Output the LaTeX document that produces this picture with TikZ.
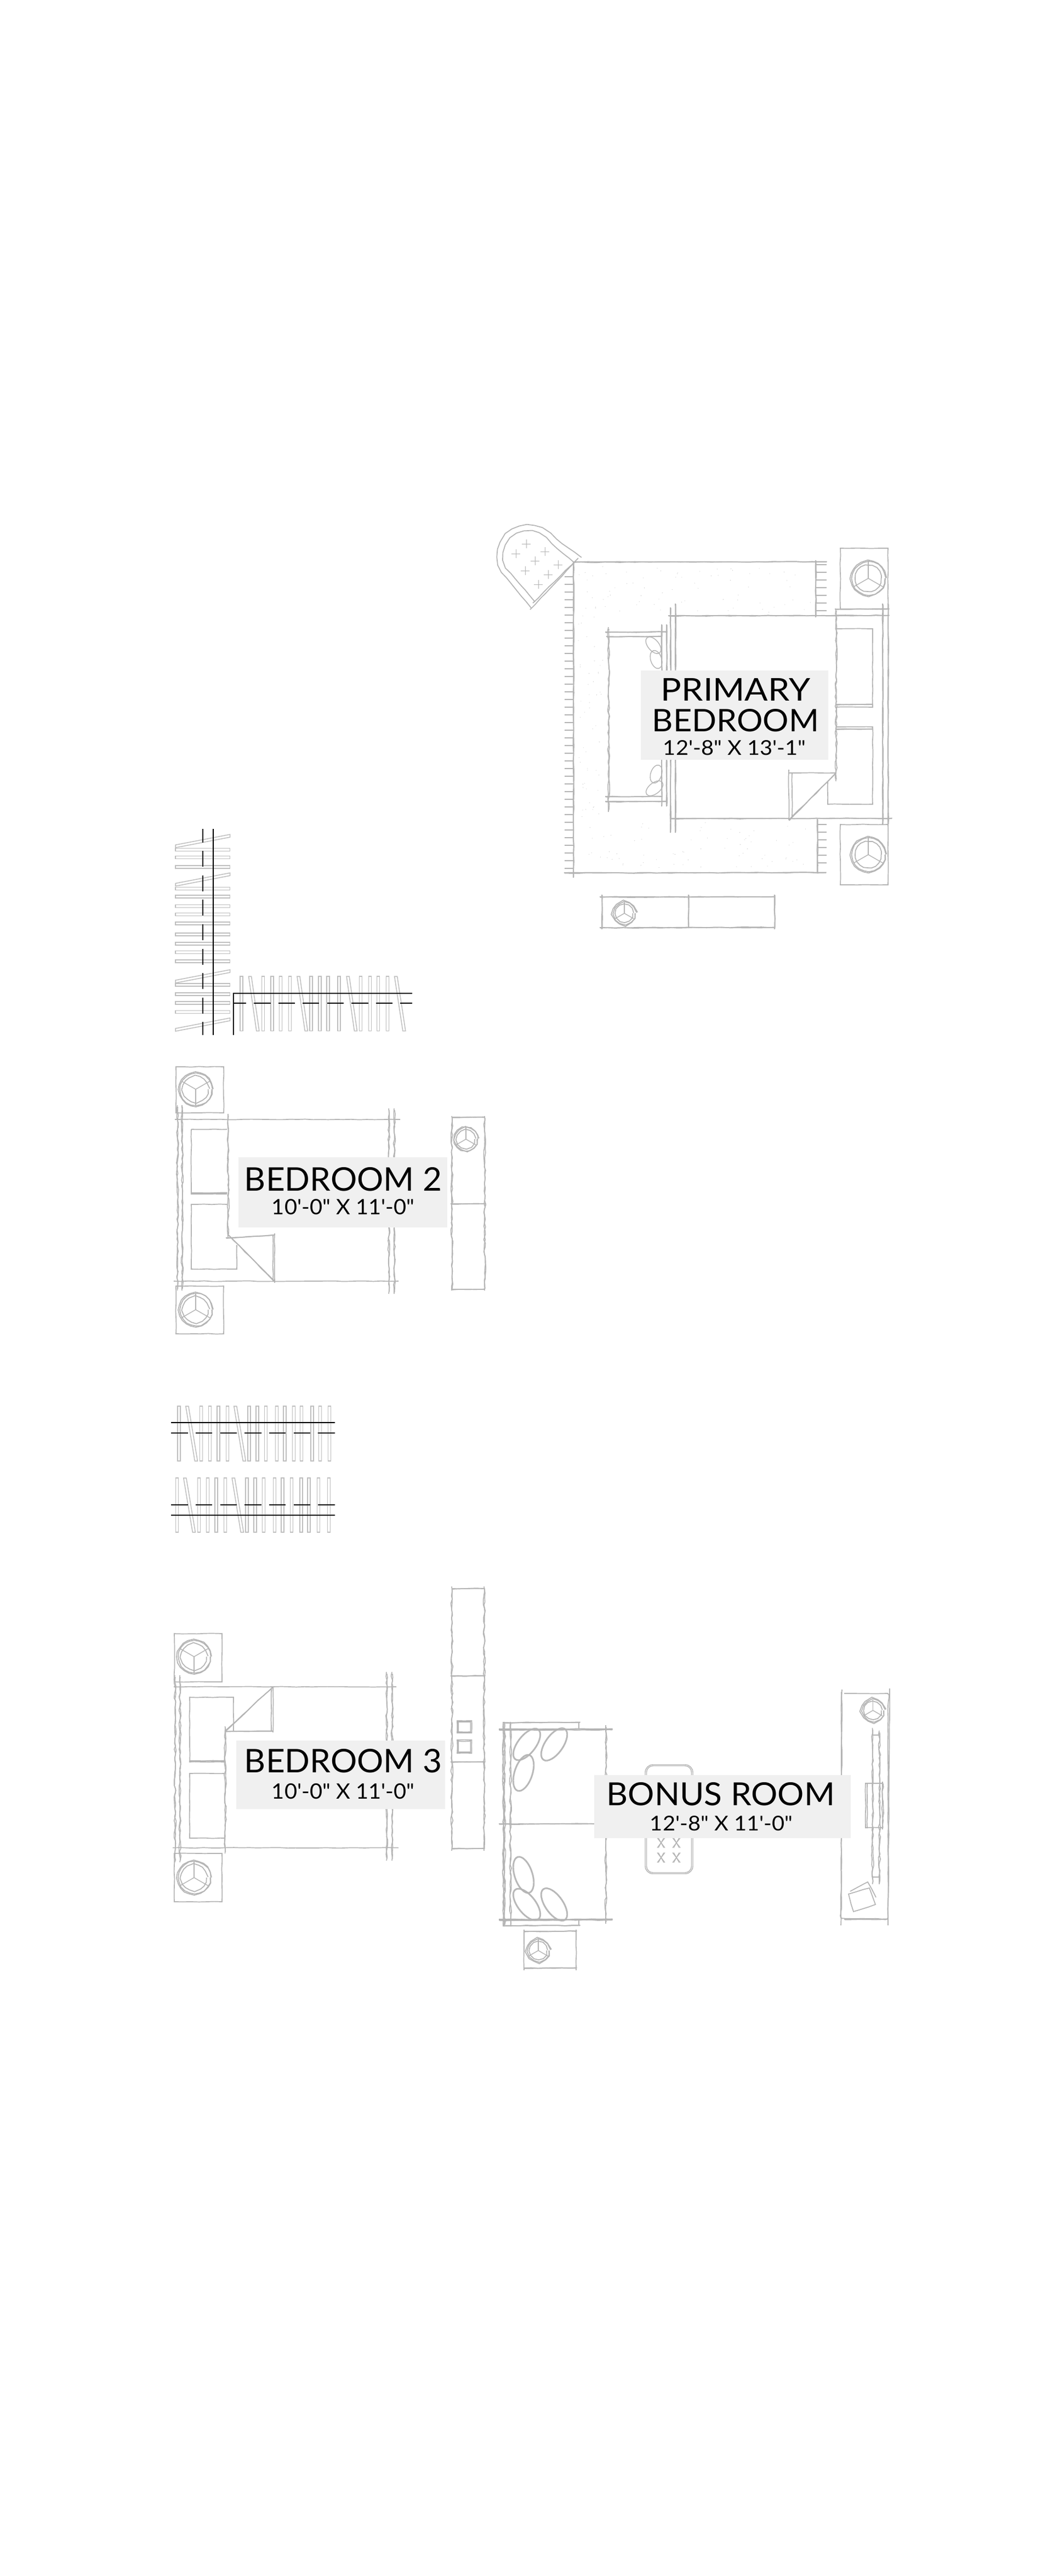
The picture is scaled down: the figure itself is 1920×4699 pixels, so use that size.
\documentclass[tikz,border=0pt]{standalone}
\usepackage{fontspec}
\usepackage{graphicx}
\usetikzlibrary{decorations.pathmorphing}
\newfontfamily\lb{Lato}
\definecolor{skgray}{HTML}{B4B4B4}
\definecolor{hanggray}{HTML}{BEBEBE}
\definecolor{labelbg}{HTML}{F0F0F0}
\pgfmathsetseed{7}
\tikzset{
  sk/.style={draw=skgray,line width=1.7pt,decorate,decoration={random steps,segment length=14pt,amplitude=.6pt}},
  skw/.style={draw=skgray,line width=1.6pt,decorate,decoration={random steps,segment length=8pt,amplitude=1.6pt}},
  smooth line/.style={draw=skgray,line width=1.4pt},
  hang/.style={draw=hanggray,line width=1.5pt},
  rod/.style={draw=black,line width=1.5pt},
  tick/.style={draw=skgray,line width=1.3pt},
  labelbox/.style={fill=labelbg,draw=none,inner sep=0},
  labeltext/.style={anchor=base,inner sep=0,text=black,font=\lb},
}
% fit a line of text to the measured width and height
\newcommand\fitt[3]{\resizebox{#1pt}{#2pt}{#3}}
% sketched line drawn twice
\newcommand\twin[4]{\draw[sk] (#1,#2) -- (#3,#4);\draw[sk] (#1+.8,#2+.8) -- (#3+.6,#4-.6);}
\newcommand\wobv[3]{\draw[skw] (#1,#2) -- (#1,#3);\draw[skw] (#1+.8,#2+3) -- (#1+.8,#3-3);}
% round lamp: x y r dir (1 = spoke up, -1 = spoke down)
\newcommand\lamp[4]{%
  \draw[sk,decoration={segment length=9pt,amplitude=.7pt}] (#1,#2) circle [radius=#3];
  \draw[sk,decoration={segment length=9pt,amplitude=.7pt}] (#1+.8,#2) circle [radius=#3-1.5];
  \draw[sk,decoration={segment length=8pt,amplitude=.5pt}] (#1,#2) circle [radius=#3*.76];
  \draw[smooth line] (#1,#2) -- (#1,#2-#4*#3*1.0);
  \draw[smooth line] (#1,#2) -- (#1+.87*#3,#2+#4*.5*#3);
  \draw[smooth line] (#1,#2) -- (#1-.87*#3,#2+#4*.5*#3);
}
% closet hangers
\newcommand\hangv[5]{\draw[hang] (#1-2.5,#3) -- (#1+2.5,#3) -- (#2+2.5,#4) -- (#2-2.5,#4) -- cycle;}
\newcommand\hangh[5]{\draw[hang] (#3,#1-2.5) -- (#3,#1+2.5) -- (#4,#2+2.5) -- (#4,#2-2.5) -- cycle;}
\begin{document}
\begin{tikzpicture}[x=1pt,y=-1pt]
\useasboundingbox[fill=white] (0,0) rectangle (1920,4699);

%% ---------- PRIMARY BEDROOM ----------
% stipple
\foreach \i in {1,...,70}{\pgfmathsetmacro\px{1055+rnd*430}\pgfmathsetmacro\py{1032+rnd*85}\fill[skgray] (\px,\py) circle [radius=.5];}
\foreach \i in {1,...,50}{\pgfmathsetmacro\px{1055+rnd*45}\pgfmathsetmacro\py{1120+rnd*370}\fill[skgray] (\px,\py) circle [radius=.5];}
\foreach \i in {1,...,70}{\pgfmathsetmacro\px{1055+rnd*425}\pgfmathsetmacro\py{1500+rnd*85}\fill[skgray] (\px,\py) circle [radius=.5];}
% outer walls
\twin{1046}{1025}{1508}{1025}
\twin{1029}{1592}{1507}{1592}
\twin{1046}{1025}{1046}{1601}
\twin{1488}{1022}{1488}{1126}
\twin{1491}{1494}{1491}{1593}
\foreach \y in {1052,1066,...,1584}{\draw[tick] (1030,\y) -- (1046,\y);}
\foreach \y in {1030,1044,...,1118}{\draw[tick] (1488,\y) -- (1508,\y);}
\foreach \y in {1504,1518,...,1586}{\draw[tick] (1491,\y) -- (1508,\y);}
% inner walls
\twin{1219}{1123}{1622}{1123}
\twin{1223}{1493}{1627}{1493}
\twin{1223}{1108}{1223}{1519}
\twin{1232}{1101}{1232}{1519}
% bay frame
\twin{1104}{1153}{1217}{1153}
\twin{1106}{1161}{1207}{1161}
\twin{1104}{1453}{1207}{1453}
\twin{1104}{1462}{1217}{1462}
\wobv{1110}{1144}{1481}
\twin{1207}{1139}{1207}{1471}
\twin{1216}{1139}{1216}{1471}
\foreach \x/\y/\r/\a/\b in {1192/1177/-50/18/10,1197/1203/-72/17/10,1197/1412/72/17/10,1194/1438/38/18/10}{
  \draw[smooth line,rotate around={\r:(\x,\y)}] (\x,\y) ellipse [x radius=\a,y radius=\b];}
% bed wall
\wobv{1525}{1111}{1425}
\twin{1610}{1101}{1610}{1504}
\twin{1620}{1101}{1620}{1504}
\twin{1523}{1111}{1622}{1111}
% pillows
\draw[sk] (1525,1147) -- (1592,1147) -- (1592,1290) -- (1525,1290);
\twin{1525}{1285}{1592}{1285}
\draw[sk] (1525,1326) -- (1592,1326) -- (1592,1467) -- (1510,1467) -- (1510,1425);
\twin{1525}{1330}{1592}{1330}
% door
\draw[sk] (1439,1410) -- (1525,1410);
\draw[sk] (1439,1404) -- (1439,1496);
\draw[sk] (1445,1410) -- (1445,1490);
\twin{1439}{1496}{1525}{1410}
% lamp boxes
\draw[sk] (1533,1000) -- (1620,1000) -- (1620,1111) -- (1533,1111) -- cycle;
\lamp{1584}{1055}{31}{1}
\draw[sk] (1533,1504) -- (1620,1504) -- (1620,1614) -- (1533,1614) -- cycle;
\lamp{1584}{1559}{31}{1}
% bottom chest
\twin{1094}{1636}{1413}{1636}
\twin{1094}{1692}{1413}{1692}
\twin{1098}{1632}{1098}{1695}
\twin{1413}{1632}{1413}{1695}
\twin{1256}{1632}{1256}{1693}
\lamp{1139}{1666}{20}{1}
% round planter
\draw[sk] (969,1109) -- (924,1054) arc [start angle=135,end angle=315,radius=56] -- (1061,1017);
\draw[sk] (976,1098) -- (932,1046) arc [start angle=135,end angle=315,radius=45] -- (1046,1025);
\draw[sk] (967,1112) -- (1048,1026);
\draw[sk] (972,1100) -- (1055,1018);
\foreach \x/\y in {960/992,941/1010,994/1006,976/1023,1018/1030,958/1041,1000/1048,982/1066}{
  \draw[tick,line width=.9pt] (\x-8,\y) -- (\x+8,\y);
  \draw[tick,line width=.9pt] (\x,\y-8) -- (\x,\y+8);}

%% ---------- CLOSET RODS ----------
% vertical hangers
\foreach \Y in {110,132,159,221,244,271,295,321,352,379,403,429,496,523,548,574}{
  \pgfmathsetmacro\yy{1480+\Y/1.568}\hangh{\yy}{\yy}{320}{419.5}{}}
\foreach \A/\B in {100/70,210/180,487/457,625/595}{
  \pgfmathsetmacro\ya{1480+\A/1.568}\pgfmathsetmacro\yb{1480+\B/1.568}\hangh{\ya}{\yb}{320}{419.5}{}}
\draw[rod] (389,1512) -- (389,1888);
\draw[rod,dash pattern=on 29pt off 15.6pt,dash phase=4.5pt] (370,1512) -- (370,1888);
% horizontal hangers, room side
\foreach \X in {337,426,463,497,535,622,657,691,736,824,862,896,934}{
  \pgfmathsetmacro\xx{290+\X/2.24}\hangv{\xx}{\xx}{1781}{1880.5}{}}
\foreach \A/\B in {372/404,570/602,772/804,968/1002}{
  \pgfmathsetmacro\xa{290+\A/2.24}\pgfmathsetmacro\xb{290+\B/2.24}\hangv{\xa}{\xb}{1781}{1880.5}{}}
\draw[rod] (426,1888) -- (426,1812) -- (752,1812);
\foreach \a/\b in {426/448.5,463/494,508/538,552/582,597/627,641/672,686/716,730/752}{\draw[rod] (\a,1830) -- (\b,1830);}
% closet 2
\foreach \X in {82,172,208,243,280,368,402,437,482,514,551,582,626,659,697}{
  \pgfmathsetmacro\xx{290+\X/2.24}\hangv{\xx}{\xx}{2565}{2665}{}}
\foreach \A/\B in {115/152,312/349}{
  \pgfmathsetmacro\xa{290+\A/2.24}\pgfmathsetmacro\xb{290+\B/2.24}\hangv{\xa}{\xb}{2565}{2665}{}}
\draw[rod] (312,2595) -- (610.5,2595);
\foreach \a/\b in {312/343,357/387,402/432,446/477,491/521,535.5/566,580/610.5}{\draw[rod] (\a,2614) -- (\b,2614);}
% closet 3
\foreach \X in {74,163,199,234,271,360,393,428,473,505,542,581,613,652,694}{
  \pgfmathsetmacro\xx{290+\X/2.24}\hangv{\xx}{\xx}{2696}{2795}{}}
\foreach \A/\B in {106/143,304/340}{
  \pgfmathsetmacro\xa{290+\A/2.24}\pgfmathsetmacro\xb{290+\B/2.24}\hangv{\xa}{\xb}{2696}{2795}{}}
\draw[rod] (312,2764) -- (610.5,2764);
\foreach \a/\b in {312/343,357/387,402/432,446/477,491/521,535.5/566,580/610.5}{\draw[rod] (\a,2745) -- (\b,2745);}

%% ---------- BEDROOM 2 ----------
\draw[sk] (321,1946) -- (408,1946) -- (408,2030) -- (321,2030) -- cycle;
\lamp{357}{1987}{30}{-1}
\draw[sk] (321,2346) -- (408,2346) -- (408,2433) -- (321,2433) -- cycle;
\lamp{357}{2389}{30}{1}
\draw[sk] (319,2042) -- (730,2042);
\draw[sk] (317,2337) -- (727,2337);
\wobv{323.5}{2016}{2354}
\wobv{332}{2016}{2354}
\wobv{416}{2032}{2258}
\wobv{709}{2022}{2360}
\wobv{719}{2022}{2360}
\draw[sk] (349,2060) -- (414,2060);
\draw[sk] (349,2060) -- (349,2178) -- (414,2178);
\twin{349}{2176}{414}{2176}
\draw[sk] (414,2197) -- (349,2197) -- (349,2315) -- (432,2315) -- (432,2271);
\twin{412}{2258}{501}{2253}
\draw[sk] (501,2250) -- (501,2340);
\draw[sk] (498,2253) -- (498,2338);
\twin{417}{2253}{501}{2338}
% chest
\twin{824}{2038}{884}{2038}
\twin{824}{2352}{884}{2352}
\wobv{824}{2036}{2354}
\wobv{884}{2036}{2354}
\twin{822}{2196}{886}{2196}
\lamp{850}{2078}{21}{1}

%% ---------- BEDROOM 3 ----------
\draw[sk] (318,2980) -- (405,2980) -- (405,3068) -- (318,3068) -- cycle;
\lamp{354}{3022}{30}{-1}
\draw[sk] (318,3381) -- (405,3381) -- (405,3469) -- (318,3469) -- cycle;
\lamp{354}{3425}{30}{1}
\draw[sk] (317,3077) -- (723,3077);
\draw[sk] (315,3370.6) -- (727,3370.6);
\wobv{319}{3056}{3397}
\wobv{328}{3056}{3397}
\wobv{410.5}{3149}{3381}
\wobv{705}{3050}{3394}
\wobv{715}{3050}{3394}
\draw[sk] (410,3214) -- (346,3214) -- (346,3096) -- (426,3096) -- (426,3158);
\twin{346}{3212}{410}{3212}
\draw[sk] (410,3235) -- (346,3235) -- (346,3353) -- (410,3353);
\twin{410}{3158}{498}{3158}
\draw[sk] (498,3077) -- (498,3160);
\draw[sk] (495,3080) -- (495,3158);
\twin{410}{3158}{498}{3077}
% tall chest
\twin{824}{2898}{883}{2898}
\twin{824}{3372}{883}{3372}
\wobv{824}{2894}{3376}
\wobv{883}{2894}{3376}
\twin{822}{3057}{885}{3057}
\twin{822}{3214}{885}{3214}
\draw[sk] (834,3139) rectangle (860.5,3161);
\draw[sk] (836,3141) rectangle (858.5,3159);
\draw[sk] (834,3174) rectangle (860.5,3198);
\draw[sk] (836,3176) rectangle (858.5,3196);

%% ---------- BONUS ROOM ----------
\twin{910}{3154}{1117}{3154}
\twin{910}{3155.5}{1117}{3155.5}
\twin{918}{3142}{1058}{3142}
\twin{910}{3327}{1104}{3327}
\twin{910}{3501}{1117}{3501}
\twin{910}{3502.5}{1117}{3502.5}
\twin{918}{3512.5}{1058}{3512.5}
\draw[sk] (1056,3142) -- (1056,3154);
\draw[sk] (1056,3501) -- (1056,3512);
\wobv{918}{3141}{3514}
\wobv{920}{3141}{3514}
\wobv{931}{3141}{3514}
\wobv{1105}{3147}{3509}
\foreach \x/\y/\r in {961/3182/52,1011/3182/55,955/3234/72,955/3420/-72,961/3474/-52,1011/3474/-55}{
  \draw[smooth line,rotate around={\r:(\x,\y)}] (\x,\y) ellipse [x radius=35,y radius=17];
  \draw[smooth line,rotate around={\r:(\x,\y)}] (\x,\y) ellipse [x radius=33.5,y radius=15.5];}
% ottoman
\draw[smooth line,rounded corners=14pt] (1177,3219) rectangle (1264,3418);
\draw[smooth line,rounded corners=12pt] (1179.5,3221) rectangle (1261.5,3416);
\foreach \x/\y in {1206/3361.5,1234/3361.5,1206/3388.5,1234/3388.5}{
  \draw[tick] (\x-7,\y-9) -- (\x+7,\y+9);
  \draw[tick] (\x+7,\y-9) -- (\x-7,\y+9);
  \draw[tick] (\x-5,\y-9) -- (\x+5,\y+9);
  \draw[tick] (\x+5,\y-9) -- (\x-5,\y+9);}
% console
\draw[sk,rounded corners=5pt] (1535,3089) -- (1620,3089) -- (1620,3499.5) -- (1535,3499.5) -- cycle;
\draw[sk] (1536,3082) -- (1534,3512);
\draw[sk] (1623,3080) -- (1620,3512);
\twin{1540}{3501}{1618}{3501}
\lamp{1592.5}{3120}{20}{1}
% tv
\wobv{1591.5}{3152}{3437}
\wobv{1604}{3157}{3437}
\draw[sk] (1579,3252) -- (1579,3335);
\draw[sk] (1582,3252) -- (1582,3335);
\draw[sk] (1579,3253) -- (1610,3253);
\draw[sk] (1579,3334) -- (1610,3334);
\wobv{1610}{3250}{3337}
\draw[sk] (1592,3165) -- (1606,3165);
\draw[sk] (1592,3424) -- (1606,3424);
% books
\draw[sk] (1548,3455) -- (1586,3444) -- (1597,3474) -- (1557,3487) -- cycle;
\draw[sk] (1551,3450) -- (1583,3433) -- (1598,3461);
% lamp table
\twin{955}{3523}{1052}{3523}
\twin{955}{3590}{1052}{3590}
\draw[sk] (956,3520) -- (956,3594);
\draw[sk] (1051,3520) -- (1051,3594);
\lamp{982}{3558}{20}{1}

%% ---------- LABELS ----------
\fill[labelbox] (1169,1223) rectangle (1511,1386);
\node[labeltext] (primaryA) at (1342,1278) {\fitt{272}{41}{PRIMARY}};
\node[labeltext] (primaryB) at (1342,1334) {\fitt{304}{41}{BEDROOM}};
\node[labeltext] (primaryC) at (1340,1377) {\fitt{260}{27}{12'-8" X 13'-1"}};

\fill[labelbox] (435,2111) rectangle (816,2239);
\node[labeltext] (bedtwoA) at (626,2172) {\fitt{360}{43}{BEDROOM 2}};
\node[labeltext] (bedtwoB) at (626,2215) {\fitt{260}{28}{10'-0" X 11'-0"}};

\fill[labelbox] (431,3175) rectangle (812,3300);
\node[labeltext] (bedthreeA) at (626,3233.5) {\fitt{360}{43}{BEDROOM 3}};
\node[labeltext] (bedthreeB) at (626,3281) {\fitt{260}{28}{10'-0" X 11'-0"}};

\fill[labelbox] (1084,3238) rectangle (1552,3353);
\node[labeltext] (bonusA) at (1315,3293) {\fitt{416}{42}{BONUS ROOM}};
\node[labeltext] (bonusB) at (1316,3339) {\fitt{260}{27}{12'-8" X 11'-0"}};
\end{tikzpicture}
\end{document}
